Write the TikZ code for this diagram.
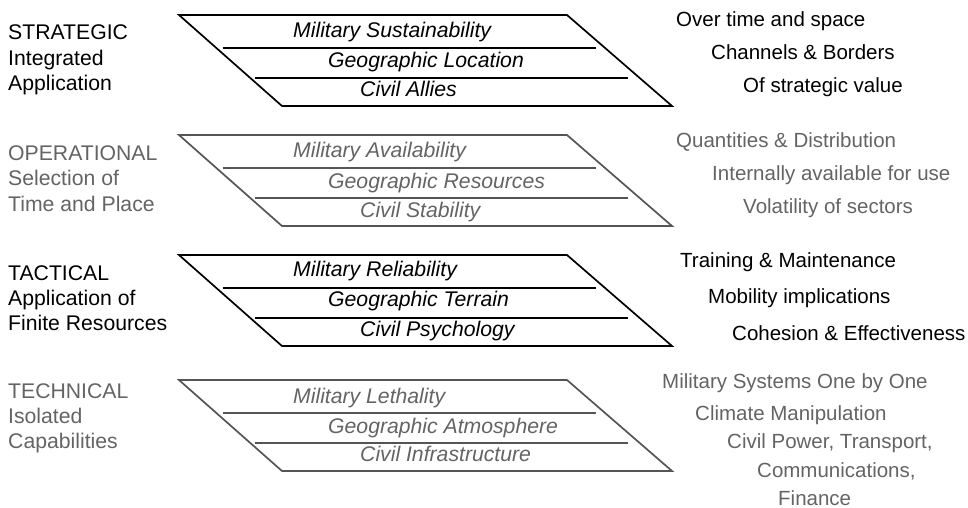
\documentclass[tikz,border=0pt]{standalone}
\usepackage{fontspec}
\setmainfont{Liberation Sans}
\definecolor{dk}{RGB}{0,0,0}
\definecolor{lt}{RGB}{100,100,100}
\definecolor{ltline}{RGB}{85,85,85}
\tikzset{
  txt/.style={anchor=base west, inner sep=0pt, font=\fontsize{20.5}{24}\selectfont},
  ltxt/.style={txt, font=\fontsize{21.2}{24}\selectfont},
  itxt/.style={txt, font=\fontsize{21.2}{24}\selectfont\itshape},
  slab/.style={line width=1.7pt, line join=miter},
}
\begin{document}
\begin{tikzpicture}[x=1pt,y=-1pt]
\useasboundingbox (0,0) rectangle (968,508);
% ---------- layer blocks ----------
\foreach \off/\col/\nm in {0/dk/A, 120/ltline/B, 240/dk/C, 365/ltline/D}{
  \begin{scope}[shift={(0,\off)}]
    \coordinate (\nm tl) at (179,15);
    \coordinate (\nm tr) at (567,15);
    \coordinate (\nm br) at (672,106);
    \coordinate (\nm bl) at (282,106);
    \draw[slab, draw=\col] (\nm tl) -- (\nm tr) -- (\nm br) -- (\nm bl) -- cycle;
    \coordinate (\nm a1) at (223,48);
    \coordinate (\nm a2) at (596,48);
    \coordinate (\nm b1) at (255,78);
    \coordinate (\nm b2) at (628,78);
    \draw[slab, draw=\col] (\nm a1) -- (\nm a2);
    \draw[slab, draw=\col] (\nm b1) -- (\nm b2);
  \end{scope}
}
% ---------- left labels ----------
\node[ltxt, text=dk] (s1) at (8,40) {STRATEGIC};
\node[ltxt, text=dk] (s2) at (8,66) {Integrated};
\node[ltxt, text=dk] (s3) at (8,91) {Application};
\node[ltxt, text=lt] (o1) at (8,160) {OPERATIONAL};
\node[ltxt, text=lt] (o2) at (8,185) {Selection of};
\node[ltxt, text=lt] (o3) at (8,211) {Time and Place};
\node[ltxt, text=dk] (t1) at (8,280) {TACTICAL};
\node[ltxt, text=dk] (t2) at (8,305) {Application of};
\node[ltxt, text=dk] (t3) at (8,330) {Finite Resources};
\node[ltxt, text=lt] (e1) at (8,398) {TECHNICAL};
\node[ltxt, text=lt] (e2) at (8,423) {Isolated};
\node[ltxt, text=lt] (e3) at (8,448) {Capabilities};
% ---------- inner labels ----------
\node[itxt, text=dk] (m1) at (293,38) {Military Sustainability};
\node[itxt, text=dk] (g1) at (328,68) {Geographic Location};
\node[itxt, text=dk] (c1) at (360,97) {Civil Allies};
\node[itxt, text=lt] (m2) at (293,157) {Military Availability};
\node[itxt, text=lt] (g2) at (328,188) {Geographic Resources};
\node[itxt, text=lt] (c2) at (360,217) {Civil Stability};
\node[itxt, text=dk] (m3) at (293,276) {Military Reliability};
\node[itxt, text=dk] (g3) at (328,306) {Geographic Terrain};
\node[itxt, text=dk] (c3) at (360,336) {Civil Psychology};
\node[itxt, text=lt] (m4) at (293,403) {Military Lethality};
\node[itxt, text=lt] (g4) at (328,433) {Geographic Atmosphere};
\node[itxt, text=lt] (c4) at (360,461) {Civil Infrastructure};
% ---------- right labels ----------
\node[txt, text=dk] (r11) at (676,27) {Over time and space};
\node[txt, text=dk] (r12) at (711,60) {Channels \& Borders};
\node[txt, text=dk] (r13) at (743,93) {Of strategic value};
\node[txt, text=lt] (r21) at (676,147) {Quantities \& Distribution};
\node[txt, text=lt] (r22) at (712,180) {Internally available for use};
\node[txt, text=lt] (r23) at (743,213) {Volatility of sectors};
\node[txt, text=dk] (r31) at (680,267) {Training \& Maintenance};
\node[txt, text=dk] (r32) at (708,303) {Mobility implications};
\node[txt, text=dk] (r33) at (732,340) {Cohesion \& Effectiveness};
\node[txt, text=lt] (r41) at (662,388) {Military Systems One by One};
\node[txt, text=lt] (r42) at (695,420) {Climate Manipulation};
\node[txt, text=lt] (r43) at (727,448) {Civil Power, Transport,};
\node[txt, text=lt] (r44) at (757,477) {Communications,};
\node[txt, text=lt] (r45) at (778,505) {Finance};
\end{tikzpicture}
\end{document}
